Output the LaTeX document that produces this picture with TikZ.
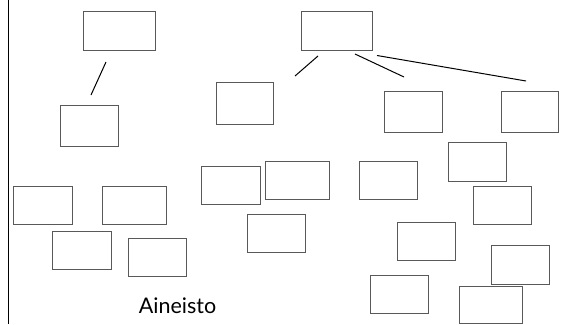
\documentclass[tikz,border=0pt]{standalone}
\usepackage{fontspec}
\setmainfont{Lato}
\newcommand{\bx}[5]{\node[box,minimum width={#4-#2},minimum height={#5-#3}] (#1) at ({(#2+#4)/2},{(#3+#5)/2}) {};}
\begin{document}
\begin{tikzpicture}[x=1pt,y=-1pt,
  box/.style={draw=black!65,line width=1pt,inner sep=0pt,outer sep=0pt},
  conn/.style={draw=black,line width=1pt},
  lbl/.style={font=\fontsize{21.5}{24}\selectfont,inner sep=0pt,anchor=base}]
\useasboundingbox (0,0) rectangle (561,324);
\coordinate (Ltop) at (8.5,0);
\coordinate (Lbot) at (8.5,324);
\draw[line width=1.2pt] (Ltop) -- (Lbot);
% boxes
\bx{A}{83}{11}{155}{50}
\bx{B}{60}{105}{118}{146}
\bx{C}{301}{11}{372}{50}
\bx{D}{216}{82}{273}{124}
\bx{E}{384}{91}{442}{132}
\bx{F}{501}{91}{558}{132}
\bx{G}{448}{142}{506}{181}
\bx{H}{13}{186}{72}{224}
\bx{I}{102}{186}{166}{224}
\bx{J}{52}{231}{111}{269}
\bx{K}{128}{238}{186}{276}
\bx{L}{201}{166}{260}{204}
\bx{M}{265}{161}{329}{199}
\bx{N}{247}{214}{305}{252}
\bx{O}{359}{161}{417}{199}
\bx{P}{473}{186}{531}{224}
\bx{Q}{397}{222}{455}{260}
\bx{R}{491}{245}{549}{284}
\bx{S}{370}{275}{428}{313}
\bx{T}{459}{286}{522}{323}
% connectors (free-floating)
\coordinate (Ab) at (106,62);
\coordinate (Bt) at (91,95);
\draw[conn] (Ab) -- (Bt);
\coordinate (C1) at (318,56);
\coordinate (D1) at (295,76);
\coordinate (C2) at (355,54);
\coordinate (E1) at (404,77);
\coordinate (C3) at (377,55.5);
\coordinate (F1) at (526,81);
\draw[conn] (C1) -- (D1);
\draw[conn] (C2) -- (E1);
\draw[conn] (C3) -- (F1);
\node[lbl] (lab) at (177.5,313) {Aineisto};
\end{tikzpicture}
\end{document}
